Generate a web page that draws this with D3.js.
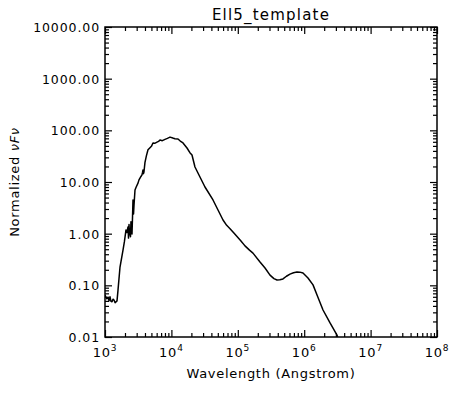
<!DOCTYPE html>
<html>
<head>
<meta charset="utf-8">
<script src="https://cdn.jsdelivr.net/npm/d3@7"></script>
<style>
  body { margin: 0; background: #fff; }
  text { font-family: "DejaVu Sans", sans-serif; fill: #000; }
</style>
</head>
<body>
<div id="chart"></div>
<script>
// SED template
const wavelength = [1000, 1060, 1110, 1150, 1190, 1230, 1275, 1320, 1366, 1420, 1517, 1570, 1683, 1867, 1960, 2071, 2140, 2220,
  2260, 2300, 2340, 2380, 2420, 2460, 2510, 2550, 2600, 2640, 2690, 2735, 2830, 2950, 3140, 3250, 3365, 3480,
  3605, 3680, 3730, 3800, 3860, 4000, 4200, 4440, 4760, 5000, 5280, 5600, 6070, 6400, 6730, 7300, 8010, 8700,
  9530, 10500, 11300, 12560, 13600, 14960, 17180, 19000, 20430, 22650, 26930, 32030, 42320, 50350, 59880,
  68000, 76400, 86000, 97300, 110000, 128300, 150000, 169300, 216000, 257000, 305600, 350000, 389000, 430000,
  479000, 540000, 611000, 690000, 779000, 860000, 959000, 1140000, 1358000, 1560000, 1920000, 2450000, 3120000, 3300000]
const flux = [0.065, 0.055, 0.058, 0.050, 0.060, 0.049, 0.048, 0.054, 0.052, 0.046, 0.050, 0.081, 0.226, 0.48, 0.70, 1.18, 1.05, 1.35,
  0.82, 1.5, 0.95, 1.25, 0.87, 1.7, 1.1, 0.99, 2.2, 4.5, 2.4, 3.6, 7.0, 8.0, 9.5, 11.0, 11.9, 12.8,
  13.7, 15.5, 17, 14.5, 15.6, 24, 32, 42, 46, 49, 57, 56, 59, 61, 65, 63, 67, 70,
  74, 71, 69, 68, 62, 57, 45.5, 37, 33.3, 19.5, 12.5, 8.0, 4.49, 2.87, 1.84,
  1.45, 1.25, 1.05, 0.88, 0.74, 0.58, 0.48, 0.42, 0.283, 0.217, 0.158, 0.135, 0.127, 0.128,
  0.133, 0.150, 0.165, 0.175, 0.181, 0.180, 0.173, 0.139, 0.102, 0.065, 0.0333, 0.0187, 0.0109, 0.0085]

const xTicks = [1e3, 1e4, 1e5, 1e6, 1e7, 1e8]
const xExp = ["3", "4", "5", "6", "7", "8"]
const yTicks = [0.01, 0.1, 1, 10, 100, 1000, 10000]
const yLabels = ["0.01", "0.10", "1.00", "10.00", "100.00", "1000.00", "10000.00"]

const width = 472, height = 394
const m = { left: 105, right: 35, top: 27, bottom: 57 }

const svg = d3.select("#chart").append("svg")
  .attr("width", width)
  .attr("height", height)

const x = d3.scaleLog().domain([1e3, 1e8]).range([m.left, width - m.right])
const y = d3.scaleLog().domain([0.01, 10000]).range([height - m.bottom, m.top])

// minor ticks 2..9 per decade
let xMinor = [], yMinor = []
for (let e = 3; e < 8; e++) for (let k = 2; k < 10; k++) xMinor.push(k * Math.pow(10, e))
for (let e = -2; e < 4; e++) for (let k = 2; k < 10; k++) yMinor.push(k * Math.pow(10, e))

function drawAxis(axis, tx, ty) {
  const g = svg.append("g").attr("transform", `translate(${tx},${ty})`).call(axis)
  g.select(".domain").remove()
  g.selectAll("line").attr("stroke", "#000").attr("stroke-width", 1.2)
  return g
}

// bottom / top
drawAxis(d3.axisBottom(x).tickValues(xTicks).tickSize(-7).tickFormat(""), 0, y.range()[0])
drawAxis(d3.axisBottom(x).tickValues(xMinor).tickSize(-4).tickFormat(""), 0, y.range()[0])
drawAxis(d3.axisTop(x).tickValues(xTicks).tickSize(-7).tickFormat(""), 0, m.top)
drawAxis(d3.axisTop(x).tickValues(xMinor).tickSize(-4).tickFormat(""), 0, m.top)

// left / right
const yl = drawAxis(d3.axisLeft(y).tickValues(yTicks).tickSize(-7).tickPadding(4)
  .tickFormat((d, i) => yLabels[i]), m.left, 0)
drawAxis(d3.axisLeft(y).tickValues(yMinor).tickSize(-4).tickFormat(""), m.left, 0)
drawAxis(d3.axisRight(y).tickValues(yTicks).tickSize(-7).tickFormat(""), width - m.right, 0)
drawAxis(d3.axisRight(y).tickValues(yMinor).tickSize(-4).tickFormat(""), width - m.right, 0)

yl.selectAll("text")
  .attr("x", -5)
  .style("font-size", "12.5px")
  .style("letter-spacing", "0.9px")
  .attr("dy", "0.36em")

// x tick labels with superscripts
const xl = svg.append("g")
xTicks.forEach((t, i) => {
  const tx = xl.append("text")
    .attr("x", x(t))
    .attr("y", 357)
    .attr("text-anchor", "middle")
    .style("font-size", "13px")
    .style("letter-spacing", "0.8px")
  tx.append("tspan").text("10")
  tx.append("tspan").attr("dy", -6).style("font-size", "9px").text(xExp[i])
})

// frame
svg.append("rect")
  .attr("x", m.left).attr("y", m.top)
  .attr("width", width - m.left - m.right)
  .attr("height", height - m.top - m.bottom)
  .attr("fill", "none")
  .attr("stroke", "#000")
  .attr("stroke-width", 1.5)

// curve
const pts = wavelength.map((w, i) => [w, flux[i]])
svg.append("clipPath").attr("id", "clip")
  .append("rect")
  .attr("x", m.left).attr("y", m.top)
  .attr("width", width - m.left - m.right)
  .attr("height", height - m.top - m.bottom)

svg.append("path")
  .datum(pts)
  .attr("clip-path", "url(#clip)")
  .attr("fill", "none")
  .attr("stroke", "#000")
  .attr("stroke-width", 1.5)
  .attr("stroke-linejoin", "round")
  .attr("d", d3.line().x(d => x(d[0])).y(d => y(d[1])))

// titles
svg.append("text")
  .attr("x", (m.left + width - m.right) / 2)
  .attr("y", 20)
  .attr("text-anchor", "middle")
  .style("font-size", "15px")
  .style("letter-spacing", "1.2px")
  .text("Ell5_template")

svg.append("text")
  .attr("x", (m.left + width - m.right) / 2)
  .attr("y", 378)
  .attr("text-anchor", "middle")
  .style("font-size", "13px")
  .style("letter-spacing", "0.7px")
  .text("Wavelength (Angstrom)")

const ylab = svg.append("text")
  .attr("transform", `translate(19,${(m.top + height - m.bottom) / 2}) rotate(-90)`)
  .attr("text-anchor", "middle")
  .style("font-size", "13px")
  .style("letter-spacing", "0.7px")
ylab.append("tspan").text("Normalized ")
ylab.append("tspan").style("font-style", "italic").text("νFν")
</script>
</body>
</html>
